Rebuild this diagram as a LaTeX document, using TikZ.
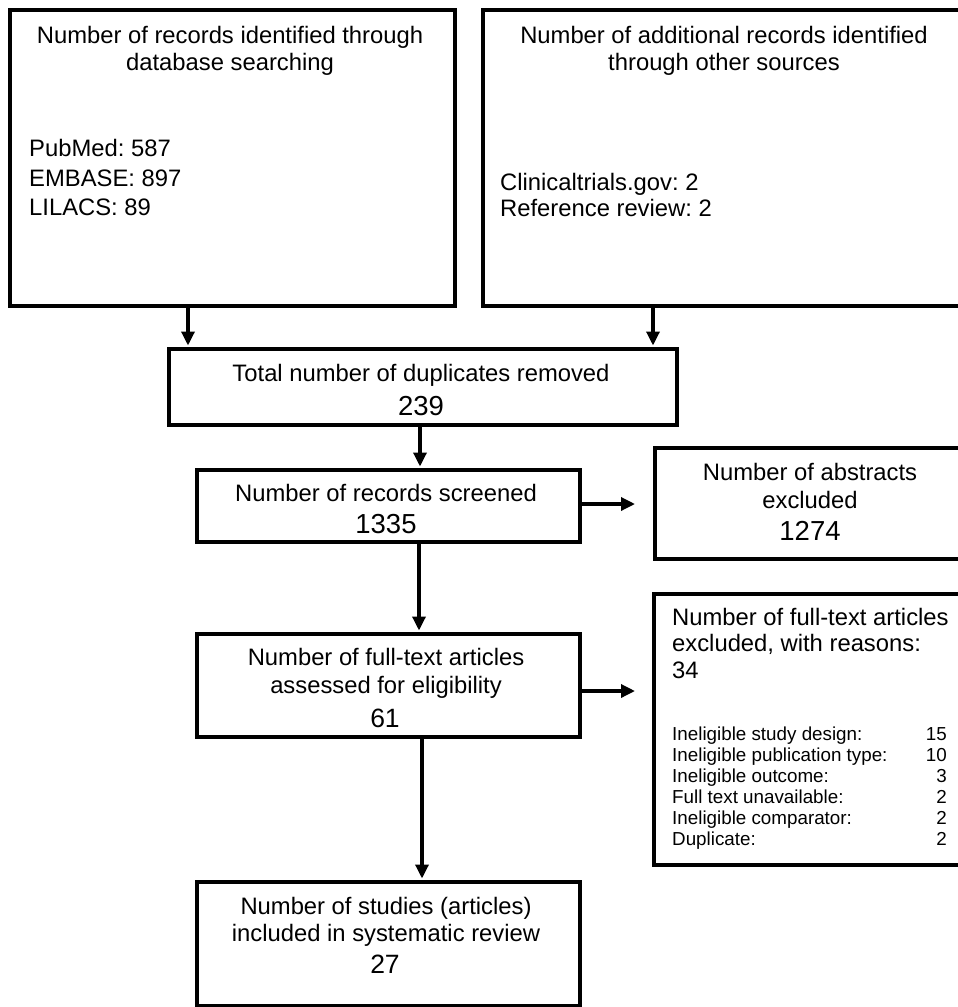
\documentclass[tikz,border=0pt]{standalone}
\usepackage{fontspec}
\setmainfont{Liberation Sans}
\usetikzlibrary{arrows.meta}
\frenchspacing
\begin{document}
\begin{tikzpicture}[x=1pt,y=-1pt,
  box/.style={draw, line width=3.5pt, inner sep=0pt, anchor=north west},
  arr/.style={line width=3.3pt, -{Triangle[length=14pt,width=13pt]}},
  big/.style={inner sep=0pt, font=\fontsize{23.8}{27}\selectfont},
  num/.style={inner sep=0pt, anchor=base, font=\fontsize{27.5}{30}\selectfont},
  numb/.style={inner sep=0pt, anchor=base, font=\fontsize{26.5}{30}\selectfont},
  small/.style={inner sep=0pt, font=\fontsize{18.8}{21}\selectfont},
  ctr/.style={big, anchor=base},
  lft/.style={big, anchor=base west},
  sl/.style={small, anchor=base west},
  sr/.style={small, anchor=base east}]
\useasboundingbox (0,0) rectangle (958,1007);
\clip (0,0) rectangle (958,1007);
% boxes
\node[box, minimum width=445pt, minimum height=296pt] (db) at (8,8) {};
\node[box, minimum width=489pt, minimum height=296pt] (other) at (481,8) {};
\node[box, minimum width=508pt, minimum height=76pt] (total) at (167,347) {};
\node[box, minimum width=383pt, minimum height=72pt] (screen) at (195,468) {};
\node[box, minimum width=317pt, minimum height=111pt] (abs) at (653,446) {};
\node[box, minimum width=383pt, minimum height=103pt] (full) at (195,632) {};
\node[box, minimum width=318pt, minimum height=271pt] (excl) at (652,592) {};
\node[box, minimum width=383pt, minimum height=124pt] (incl) at (195,880) {};
% texts
\node[ctr] (t1a) at (230,43) {Number of records identified through};
\node[ctr] (t1b) at (230,70) {database searching};
\node[lft] (t1c) at (29,156) {PubMed: 587};
\node[lft] (t1d) at (29,186) {EMBASE: 897};
\node[lft] (t1e) at (29,215) {LILACS: 89};
\node[ctr] (t2a) at (724,43) {Number of additional records identified};
\node[ctr] (t2b) at (724,70) {through other sources};
\node[lft] (t2c) at (500,190) {Clinicaltrials.gov: 2};
\node[lft] (t2d) at (500,216) {Reference review: 2};
\node[ctr] (t3a) at (421,381) {Total number of duplicates removed};
\node[num] (t3b) at (421,415) {239};
\node[ctr] (t4a) at (386,501) {Number of records screened};
\node[num] (t4b) at (386,533) {1335};
\node[ctr] (t5a) at (810,480) {Number of abstracts};
\node[ctr] (t5b) at (810,508) {excluded};
\node[num] (t5c) at (810,540) {1274};
\node[ctr] (t6a) at (386,665) {Number of full-text articles};
\node[ctr] (t6b) at (386,693) {assessed for eligibility};
\node[numb] (t6c) at (385,727) {61};
\node[ctr] (t7a) at (386,914) {Number of studies (articles)};
\node[ctr] (t7b) at (386,941) {included in systematic review};
\node[numb] (t7c) at (385,973) {27};
\node[lft] (t8a) at (672,625) {Number of full-text articles};
\node[lft] (t8b) at (672,651) {excluded, with reasons:};
\node[lft] (t8c) at (672,678) {34};
\node[sl] (r1) at (672,740) {Ineligible study design:};
\node[sl] (r2) at (672,761) {Ineligible publication type:};
\node[sl] (r3) at (672,782) {Ineligible outcome:};
\node[sl] (r4) at (672,803) {Full text unavailable:};
\node[sl] (r5) at (672,824) {Ineligible comparator:};
\node[sl] (r6) at (672,845) {Duplicate:};
\node[sr] (n1) at (947,740) {15};
\node[sr] (n2) at (947,761) {10};
\node[sr] (n3) at (947,782) {3};
\node[sr] (n4) at (947,803) {2};
\node[sr] (n5) at (947,824) {2};
\node[sr] (n6) at (947,845) {2};
% connector guides
\coordinate (xa) at (188,0);
\coordinate (xb) at (653,0);
\coordinate (xc) at (420,0);
\coordinate (xd) at (419,0);
\coordinate (xe) at (422,0);
\coordinate (ya) at (0,504);
\coordinate (yb) at (0,691);
% connectors
\draw[arr, shorten >=1.5pt] (db.south -| xa) -- (total.north -| xa);
\draw[arr, shorten >=1.5pt] (other.south -| xb) -- (total.north -| xb);
\draw[arr, shorten >=1.5pt] (total.south -| xc) -- (screen.north -| xc);
\draw[arr, shorten >=18pt] (screen.east |- ya) -- (abs.west |- ya);
\draw[arr, shorten >=1.5pt] (screen.south -| xd) -- (full.north -| xd);
\draw[arr, shorten >=17pt] (full.east |- yb) -- (excl.west |- yb);
\draw[arr, shorten >=1.5pt] (full.south -| xe) -- (incl.north -| xe);
\end{tikzpicture}
\end{document}
